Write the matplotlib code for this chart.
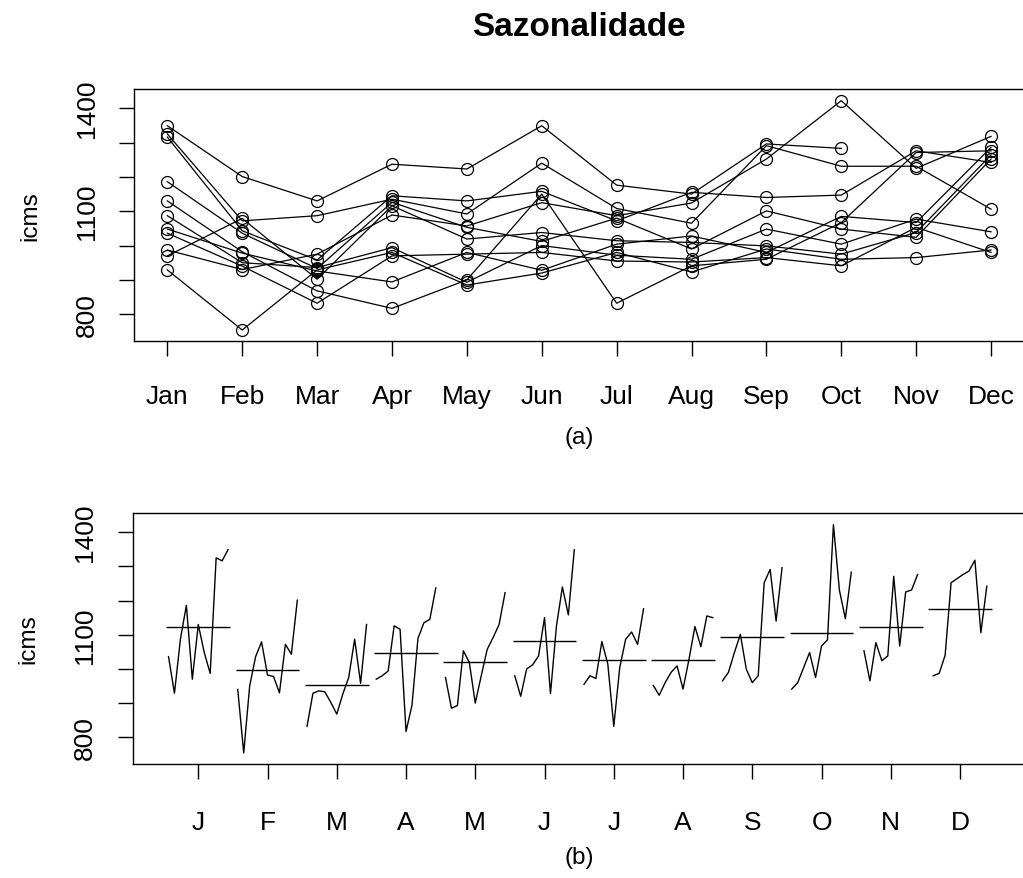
import numpy as np
import matplotlib
matplotlib.use("Agg")
import matplotlib.pyplot as plt

plt.rcParams["font.family"] = ["Liberation Sans", "DejaVu Sans"]

month_names = ["Jan", "Feb", "Mar", "Apr", "May", "Jun",
               "Jul", "Aug", "Sep", "Oct", "Nov", "Dec"]
month_letters = ["J", "F", "M", "A", "M", "J", "J", "A", "S", "O", "N", "D"]

# ICMS per month, one value per year (the last year runs only to October)
jan = [1036, 929, 1087, 1186, 970, 1130, 1048, 987, 1325, 1316, 1349]
feb = [940, 754, 950, 1036, 1079, 982, 978, 930, 1072, 1043, 1201]
mar = [832, 929, 936, 933, 902, 868, 926, 975, 1087, 958, 1130]
apr = [970, 980, 994, 1126, 1116, 817, 894, 1089, 1135, 1145, 1237]
may = [975, 885, 893, 1053, 1019, 900, 980, 1057, 1092, 1130, 1223]
jun = [980, 920, 1000, 1012, 1038, 1150, 928, 1125, 1240, 1158, 1349]
jul = [955, 980, 972, 1080, 1014, 832, 1004, 1087, 1108, 1072, 1176]
aug = [952, 923, 960, 990, 1009, 941, 1028, 1124, 1065, 1155, 1150]
sep = [965, 990, 1048, 1101, 999, 960, 980, 1252, 1291, 1140, 1296]
oct_ = [941, 960, 1004, 1048, 975, 1067, 1085, 1422, 1231, 1147, 1283]
nov = [1053, 965, 1077, 1024, 1038, 1271, 1067, 1225, 1231, 1276]
dec = [980, 987, 1040, 1252, 1264, 1276, 1286, 1318, 1106, 1242]

by_month = [jan, feb, mar, apr, may, jun, jul, aug, sep, oct_, nov, dec]
n_years = max(len(m) for m in by_month)

# year x month table, NaN where a year has no value yet
table = np.full((n_years, 12), np.nan)
for j, vals in enumerate(by_month):
    table[:len(vals), j] = vals

W, H = 1023, 879
fig = plt.figure(figsize=(W / 100, H / 100), dpi=100)

TICK_FS = 19
LAB_FS = 17.5
ylim = (722, 1456)
yticks = list(range(800, 1401, 100))
ylabels = [str(t) if t in (800, 1100, 1400) else "" for t in yticks]


def style_axes(ax, xpad):
    for s in ax.spines.values():
        s.set_linewidth(1.0)
        s.set_color("black")
    ax.set_ylim(*ylim)
    ax.set_yticks(yticks)
    ax.set_yticklabels(ylabels, rotation=90, va="center", fontsize=TICK_FS)
    ax.tick_params(axis="both", direction="out", length=10.8, width=1.0,
                   color="black")
    ax.tick_params(axis="y", pad=15)
    ax.tick_params(axis="x", pad=xpad, labelsize=TICK_FS)
    ax.set_ylabel("icms", fontsize=LAB_FS)
    ax.yaxis.set_label_coords(-0.117, 0.5)
    ax.yaxis.label.set_verticalalignment("center")
    ax.yaxis.label.set_horizontalalignment("center")


# (a) one line per year across the months
ax1 = fig.add_axes([134.4 / W, 1 - 342 / H, (1024 - 134.4) / W, 252 / H])
months_x = np.arange(1, 13)
for row in table:
    ax1.plot(months_x, row, color="black", lw=0.9, marker="o", ms=8.6,
             mfc="none", mec="black", mew=0.9)
ax1.set_xlim(0.56, 12.44)
ax1.set_xticks(months_x)
ax1.set_xticklabels(month_names)
style_axes(ax1, 20.5)
ax1.set_xlabel("(a)", fontsize=LAB_FS)
ax1.xaxis.set_label_coords(0.5, -0.381)
ax1.xaxis.label.set_verticalalignment("center")

# (b) month sub-series with their means
ax2 = fig.add_axes([132.5 / W, 1 - 765 / H, (1025.8 - 132.5) / W, 251 / H])
step = 0.086
for i, vals in enumerate(by_month, start=1):
    n = len(vals)
    xs = i + (np.arange(n) - (n - 1) / 2) * step
    ax2.plot(xs, vals, color="black", lw=1.0)
    ax2.hlines(np.mean(vals), i - 0.46, i + 0.46, color="black", lw=1.0)
ax2.set_xlim(0.05, 12.95)
ax2.set_xticks(months_x)
ax2.set_xticklabels(month_letters)
style_axes(ax2, 22.5)
ax2.set_xlabel("(b)", fontsize=LAB_FS)
ax2.xaxis.set_label_coords(0.5, -0.3705)
ax2.xaxis.label.set_verticalalignment("center")

fig.text(579 / W, 1 - 28 / H, "Sazonalidade", ha="center", va="center",
         fontsize=24, fontweight="bold")

fig.savefig("out.png", dpi=100, facecolor="white")
